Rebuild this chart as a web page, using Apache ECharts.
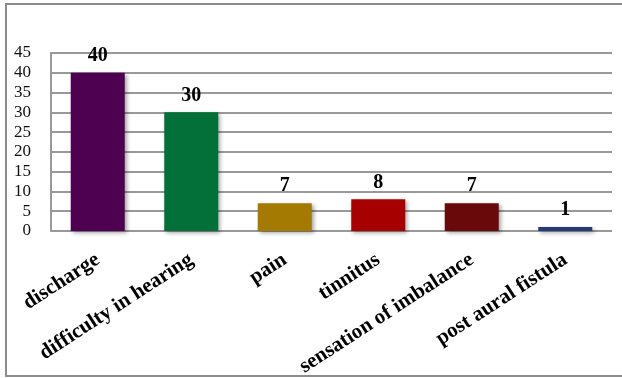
<!DOCTYPE html>
<html>
<head>
<meta charset="utf-8">
<script src="https://cdn.jsdelivr.net/npm/echarts@6/dist/echarts.min.js"></script>
<style>
html,body{margin:0;padding:0;background:#fff;}
#c{width:622px;height:378px;}
</style>
</head>
<body>
<div id="c"></div>
<script>
const categories = ['discharge', 'difficulty in hearing', 'pain', 'tinnitus', 'sensation of imbalance', 'post aural fistula'];
const values = [40, 30, 7, 8, 7, 1];
const barColors = ['#4e0150', '#027038', '#a47a02', '#a70000', '#690909', '#28397a'];
const yTicks = { min: 0, max: 45, interval: 5 };

const font = 'Liberation Serif';
const chart = echarts.init(document.getElementById('c'), null, { renderer: 'canvas' });
chart.setOption({
  animation: false,
  backgroundColor: '#fff',
  graphic: [{
    type: 'rect',
    shape: { x: 6, y: 4, width: 700, height: 372 },
    style: { fill: 'none', stroke: '#8c8c8c', lineWidth: 2 },
    silent: true
  }],
  grid: { left: 51, right: 10, top: 53, bottom: 147, containLabel: false, outerBoundsMode: 'none' },
  xAxis: {
    type: 'category', data: categories,
    axisLine: { show: false }, axisTick: { show: false },
    axisLabel: {
      interval: 0, rotate: 33, margin: 27, hideOverlap: false,
      fontFamily: font, fontWeight: 'bold', fontSize: 21, color: '#000'
    }
  },
  yAxis: {
    type: 'value', min: yTicks.min, max: yTicks.max, interval: yTicks.interval,
    axisLine: { show: true, lineStyle: { color: '#999', width: 2 } },
    axisTick: { show: false },
    splitLine: { show: true, lineStyle: { color: '#999', width: 2 } },
    axisLabel: {
      margin: 20, fontFamily: font, fontSize: 17, color: '#111',
      showMinLabel: true, showMaxLabel: true
    }
  },
  series: [{
    type: 'bar',
    barWidth: 54,
    data: values.map((v, i) => ({ value: v, itemStyle: { color: barColors[i] } })),
    itemStyle: { shadowColor: 'rgba(0,0,0,0.35)', shadowBlur: 4, shadowOffsetX: 2, shadowOffsetY: 2 },
    label: {
      show: true, position: 'top', distance: 7,
      fontFamily: font, fontWeight: 'bold', fontSize: 20, color: '#000'
    }
  }]
});
</script>
</body>
</html>
